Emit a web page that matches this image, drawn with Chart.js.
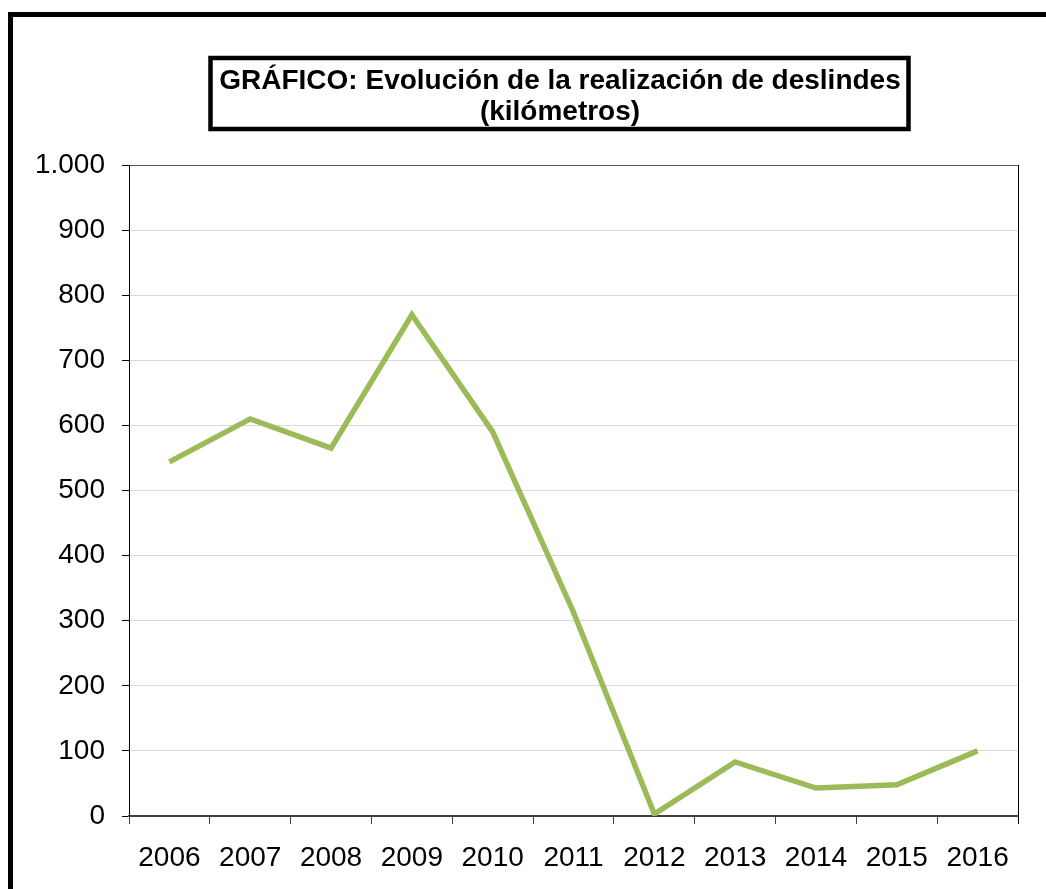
<!DOCTYPE html>
<html>
<head>
<meta charset="utf-8">
<script src="https://cdn.jsdelivr.net/npm/chart.js@4"></script>
<style>
  html, body { margin: 0; padding: 0; background: #fff; }
  #wrap { width: 1046px; height: 889px; position: relative; }
</style>
</head>
<body>
<div id="wrap"><canvas id="lineChart"></canvas></div>
<script>
const years = ['2006', '2007', '2008', '2009', '2010', '2011', '2012', '2013', '2014', '2015', '2016'];
const kilometres = [544, 610, 565, 770, 590, 313, 3, 83, 43, 48, 100];
const titleLines = ['GRÁFICO: Evolución de la realización de deslindes', '(kilómetros)'];

const FONT = '"Liberation Sans", Arial, sans-serif';

// outer frame + boxed title, drawn straight on the canvas
const framePlugin = {
    id: 'frame',
    beforeDraw(chart) {
        const c = chart.ctx;
        c.save();
        c.strokeStyle = '#000';
        c.lineWidth = 5;
        c.strokeRect(10.5, 14.5, 1100, 1000);

        c.lineWidth = 4.5;
        c.strokeRect(210.5, 58, 698, 71);

        c.fillStyle = '#000';
        c.font = 'bold 28px ' + FONT;
        c.textAlign = 'center';
        c.textBaseline = 'middle';
        c.fillText(titleLines[0], 560, 81);
        c.fillText(titleLines[1], 560, 112);
        c.restore();
    },
    afterDatasetsDraw(chart) {
        const a = chart.chartArea;
        const c = chart.ctx;
        c.save();
        c.strokeStyle = '#000';
        c.lineWidth = 1;
        c.beginPath();
        c.moveTo(Math.round(a.right) + 0.5, a.top);
        c.lineTo(Math.round(a.right) + 0.5, a.bottom + 8);
        c.stroke();
        c.restore();
    }
};

const data = {
    labels: years,
    datasets: [{
        data: kilometres,
        borderColor: '#9bbb59',
        borderWidth: 5.5,
        pointRadius: 0,
        tension: 0,
        fill: false
    }]
};

const options = {
    animation: false,
    responsive: true,
    maintainAspectRatio: false,
    layout: {
        padding: { top: 165, left: 0, right: 28, bottom: 0 }
    },
    scales: {
        x: {
            offset: true,
            grid: {
                offset: true,
                drawOnChartArea: false,
                tickLength: 8,
                color: '#404040',
                tickWidth: 1
            },
            border: { color: '#404040', width: 2 },
            ticks: {
                color: '#000',
                font: { family: FONT, size: 28 },
                padding: 17,
                maxRotation: 0,
                autoSkip: false
            },
            afterFit(scale) { scale.height = 73; }
        },
        y: {
            min: 0,
            max: 1000,
            ticks: {
                stepSize: 100,
                color: '#000',
                font: { family: FONT, size: 28 },
                padding: 17,
                callback: (v) => v === 1000 ? '1.000' : String(v)
            },
            grid: {
                color: (ctx) => ctx.tick && ctx.tick.value === 1000 ? '#595959' : '#d9d9d9',
                tickColor: '#000',
                tickLength: 7,
                lineWidth: 1
            },
            border: { color: '#000', width: 1 },
            afterFit(scale) { scale.width = 129; }
        }
    },
    plugins: {
        legend: { display: false },
        title: { display: false },
        tooltip: { enabled: false }
    }
};

new Chart(document.getElementById('lineChart'), {
    type: 'line',
    data,
    options,
    plugins: [framePlugin]
});
</script>
</body>
</html>
